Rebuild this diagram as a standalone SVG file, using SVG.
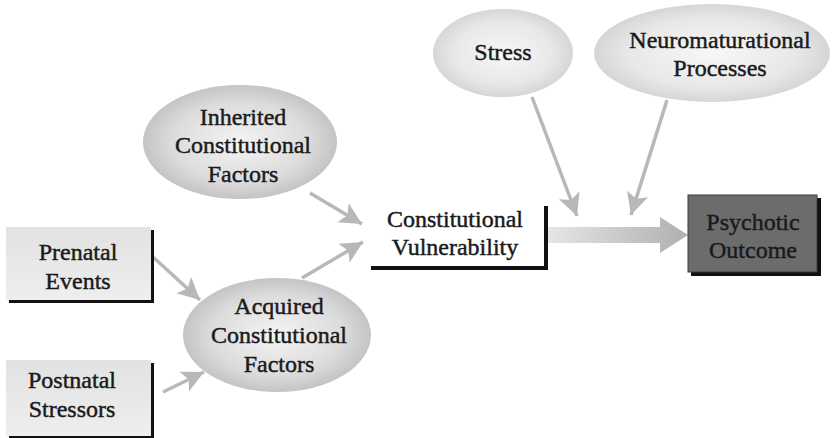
<svg xmlns="http://www.w3.org/2000/svg" width="834" height="438" viewBox="0 0 834 438">
<defs>
<style>
text{font-family:"Liberation Serif","Times New Roman",serif;font-size:24px;fill:#1a1a1a;stroke:#1a1a1a;stroke-width:0.45;text-anchor:middle}
.conn{stroke:#b8b8b8;stroke-width:3.5;fill:none}
.shadow{fill:#111}
</style>
<radialGradient id="ellA" cx="50%" cy="50%" r="50%">
<stop offset="0" stop-color="#f4f4f4"/><stop offset="0.7" stop-color="#dcdcdc"/><stop offset="1" stop-color="#c4c4c4"/>
</radialGradient>
<radialGradient id="ellB" cx="50%" cy="50%" r="50%">
<stop offset="0" stop-color="#f7f7f7"/><stop offset="0.7" stop-color="#e8e8e8"/><stop offset="1" stop-color="#d6d6d6"/>
</radialGradient>
<linearGradient id="boxG" x1="0" y1="0" x2="0" y2="1">
<stop offset="0" stop-color="#e2e2e2"/><stop offset="1" stop-color="#eeeeee"/>
</linearGradient>
<linearGradient id="bigArrow" x1="546" y1="0" x2="688" y2="0" gradientUnits="userSpaceOnUse">
<stop offset="0" stop-color="#e6e6e6"/><stop offset="1" stop-color="#b0b0b0"/>
</linearGradient>
<marker id="ah" markerUnits="userSpaceOnUse" markerWidth="24" markerHeight="24" viewBox="0 0 24 24" refX="22" refY="12" orient="auto">
<path d="M0,1 L22,12 L0,23 L5,12 Z" fill="#b8b8b8"/>
</marker>
</defs>

<g id="connectors">
<line class="conn" x1="153" y1="257" x2="200" y2="300" marker-end="url(#ah)"/>
<line class="conn" x1="163" y1="392" x2="204" y2="372" marker-end="url(#ah)"/>
<line class="conn" x1="310" y1="193" x2="362" y2="224" marker-end="url(#ah)"/>
<line class="conn" x1="302" y1="278" x2="363" y2="242" marker-end="url(#ah)"/>
<line class="conn" x1="532" y1="97" x2="577" y2="216" marker-end="url(#ah)"/>
<line class="conn" x1="667" y1="100" x2="631" y2="215" marker-end="url(#ah)"/>
<path d="M548,227 L660,227 L660,217 L688,235 L660,253 L660,243 L548,243 Z" fill="url(#bigArrow)"/>
</g>

<g id="prenatal">
<rect class="shadow" x="9" y="230" width="145" height="73"/>
<rect x="6" y="227" width="145" height="73" fill="url(#boxG)"/>
<text x="78" y="260">Prenatal</text>
<text x="78" y="289">Events</text>
</g>

<g id="postnatal">
<rect class="shadow" x="9" y="363" width="145" height="76"/>
<rect x="6" y="360" width="145" height="76" fill="url(#boxG)"/>
<text x="72" y="388">Postnatal</text>
<text x="72" y="417">Stressors</text>
</g>

<g id="inherited">
<ellipse cx="240" cy="142" rx="97" ry="57" fill="url(#ellA)"/>
<text x="243" y="125">Inherited</text>
<text x="243" y="153">Constitutional</text>
<text x="243" y="182">Factors</text>
</g>

<g id="acquired">
<ellipse cx="277" cy="335" rx="94" ry="57" fill="url(#ellA)"/>
<text x="279" y="314">Acquired</text>
<text x="279" y="343">Constitutional</text>
<text x="279" y="372">Factors</text>
</g>

<g id="vulnerability">
<rect class="shadow" x="371" y="206" width="177" height="64"/>
<rect x="368" y="203" width="176" height="63" fill="#ffffff"/>
<text x="455" y="227">Constitutional</text>
<text x="455" y="255">Vulnerability</text>
</g>

<g id="stress">
<ellipse cx="503" cy="53" rx="70" ry="44" fill="url(#ellB)"/>
<text x="503" y="60">Stress</text>
</g>

<g id="neuro">
<ellipse cx="712" cy="53" rx="118" ry="49" fill="url(#ellB)"/>
<text x="720" y="48">Neuromaturational</text>
<text x="720" y="76">Processes</text>
</g>

<g id="outcome">
<rect class="shadow" x="691" y="198" width="130" height="78"/>
<rect x="688" y="195" width="129" height="77" fill="#6c6c6c" stroke="#3a3a3a" stroke-width="1"/>
<text x="753" y="230">Psychotic</text>
<text x="753" y="258">Outcome</text>
</g>
</svg>
